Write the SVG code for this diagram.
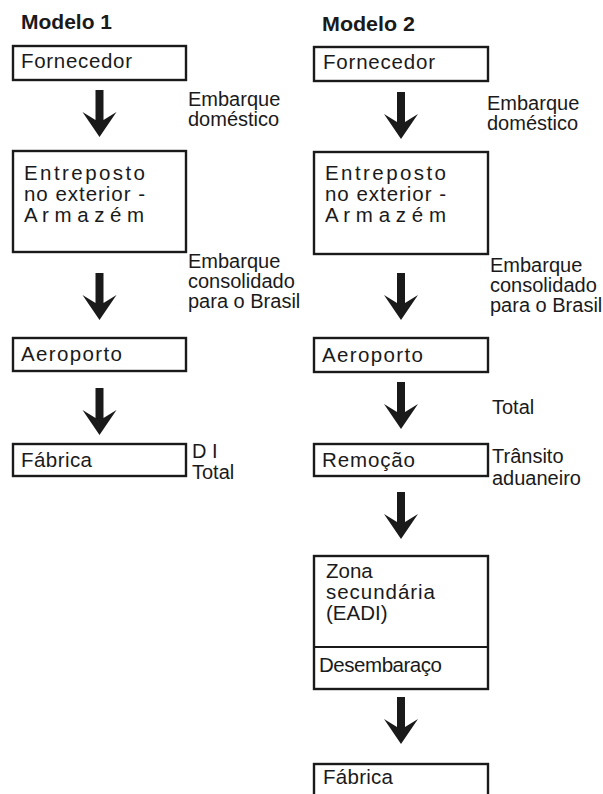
<svg xmlns="http://www.w3.org/2000/svg" width="603" height="794" viewBox="0 0 603 794">
<style>
.box{fill:#fff;stroke:#1a1a1a;stroke-width:2.4}
.lbl{font-family:"Liberation Sans",Arial,sans-serif;font-size:20.5px;fill:#1a1a1a}
.side{font-family:"Liberation Sans",Arial,sans-serif;font-size:20px;fill:#1a1a1a}
.title{font-family:"Liberation Sans",Arial,sans-serif;font-size:20px;font-weight:bold;fill:#1a1a1a}
.arr{fill:#1a1a1a}
</style>
<defs>
<path id="arrow" class="arr" d="M-4,0 H4 V30 L17,22 L0,47 L-17,22 L-4,30 Z"/>
</defs>
<rect width="603" height="794" fill="#fff"/>

<text class="title" x="21" y="29" textLength="91" lengthAdjust="spacingAndGlyphs">Modelo 1</text>
<text class="title" x="322" y="31" textLength="93" lengthAdjust="spacingAndGlyphs">Modelo 2</text>

<g id="connectors">
<use href="#arrow" x="99.5" y="90"/>
<use href="#arrow" x="99.5" y="273"/>
<use href="#arrow" x="99.5" y="388"/>
<use href="#arrow" x="401" y="92"/>
<use href="#arrow" x="401" y="273"/>
<use href="#arrow" x="401" y="382"/>
<use href="#arrow" x="401" y="492"/>
<use href="#arrow" x="401" y="697"/>
<text class="side" x="188" y="106">Embarque</text>
<text class="side" x="188" y="126">doméstico</text>
<text class="side" x="188" y="268">Embarque</text>
<text class="side" x="188" y="288">consolidado</text>
<text class="side" x="188" y="308">para o Brasil</text>
<text class="side" x="192" y="458">D I</text>
<text class="side" x="192" y="479">Total</text>
<text class="side" x="487" y="110">Embarque</text>
<text class="side" x="487" y="130">doméstico</text>
<text class="side" x="490" y="272">Embarque</text>
<text class="side" x="490" y="292">consolidado</text>
<text class="side" x="490" y="312">para o Brasil</text>
<text class="side" x="492" y="414">Total</text>
<text class="side" x="492" y="463">Trânsito</text>
<text class="side" x="492" y="485">aduaneiro</text>
</g>

<g id="m1-fornecedor">
<rect class="box" x="13" y="46" width="173" height="34"/>
<text class="lbl" x="21" y="68" textLength="111" lengthAdjust="spacing">Fornecedor</text>
</g>
<g id="m1-entreposto">
<rect class="box" x="13" y="151" width="173" height="101"/>
<text class="lbl" x="24" y="180" textLength="121" lengthAdjust="spacing">Entreposto</text>
<text class="lbl" x="24" y="201" textLength="121" lengthAdjust="spacing">no exterior -</text>
<text class="lbl" x="24" y="222" textLength="120" lengthAdjust="spacing">A r m a z é m</text>
</g>
<g id="m1-aeroporto">
<rect class="box" x="13" y="338" width="173" height="33"/>
<text class="lbl" x="21" y="361" textLength="101" lengthAdjust="spacing">Aeroporto</text>
</g>
<g id="m1-fabrica">
<rect class="box" x="13" y="444" width="173" height="32"/>
<text class="lbl" x="21" y="467" textLength="71" lengthAdjust="spacing">Fábrica</text>
</g>

<g id="m2-fornecedor">
<rect class="box" x="314" y="47" width="174" height="34"/>
<text class="lbl" x="323" y="69" textLength="112" lengthAdjust="spacing">Fornecedor</text>
</g>
<g id="m2-entreposto">
<rect class="box" x="314" y="152" width="174" height="102"/>
<text class="lbl" x="325" y="180" textLength="121" lengthAdjust="spacing">Entreposto</text>
<text class="lbl" x="325" y="201" textLength="121" lengthAdjust="spacing">no exterior -</text>
<text class="lbl" x="325" y="222" textLength="121" lengthAdjust="spacing">A r m a z é m</text>
</g>
<g id="m2-aeroporto">
<rect class="box" x="314" y="338" width="174" height="34"/>
<text class="lbl" x="322" y="362" textLength="101" lengthAdjust="spacing">Aeroporto</text>
</g>
<g id="m2-remocao">
<rect class="box" x="314" y="444" width="174" height="32"/>
<text class="lbl" x="322" y="467" textLength="93" lengthAdjust="spacing">Remoção</text>
</g>
<g id="m2-zona">
<rect class="box" x="314" y="556" width="174" height="133"/>
<line x1="314" y1="647" x2="488" y2="647" stroke="#1a1a1a" stroke-width="2"/>
<text class="lbl" x="326" y="578">Zona</text>
<text class="lbl" x="326" y="599" textLength="109" lengthAdjust="spacing">secundária</text>
<text class="lbl" x="326" y="620">(EADI)</text>
<text class="lbl" x="319" y="672" textLength="123" lengthAdjust="spacing">Desembaraço</text>
</g>
<g id="m2-fabrica">
<rect class="box" x="314" y="764" width="174" height="60"/>
<text class="lbl" x="323" y="784" textLength="70" lengthAdjust="spacing">Fábrica</text>
</g>
</svg>
